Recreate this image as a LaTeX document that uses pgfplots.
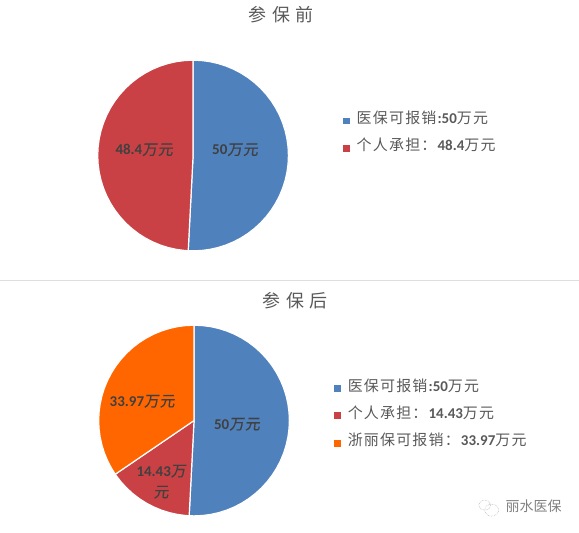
\documentclass[border=0pt]{standalone}
\usepackage{fontspec}
\usepackage{pgfplots}
\pgfplotsset{compat=1.18}
\usepgfplotslibrary{polar}
\setmainfont{Carlito}
\newfontfamily\cjkt[LetterSpace=30]{Noto Sans CJK SC}
\newfontfamily\cjkl[LetterSpace=8]{Noto Sans CJK SC}
\newfontfamily\cjkd[LetterSpace=5,FakeSlant=0.12,FakeBold=0.4]{Noto Sans CJK SC}
\newfontfamily\cjkw{Noto Sans CJK SC}
\definecolor{blueA}{HTML}{4F81BD}
\definecolor{redA}{HTML}{C94144}
\definecolor{orangeA}{HTML}{FF6600}
\definecolor{txtA}{HTML}{595959}
\definecolor{txtB}{HTML}{404040}
\newcommand{\sz}[1]{\fontsize{#1}{#1}\selectfont}
\newcommand{\legtxt}[2]{\hspace*{7pt}{\cjkl #1}\textbf{#2}{\cjkl 万元}}
\newcommand{\datatxt}[1]{\textbf{#1}{\cjkd 万元}}
\pgfplotsset{
  piestyle/.style={
    hide axis, clip=false, scale only axis, width=191pt,
    xmin=-270, xmax=90, ymin=0, ymax=1,
    legend cell align=left,
    legend image code/.code={\fill[##1,draw=none] (0pt,-1pt) rectangle (7pt,6pt);},
    legend style={draw=none, fill=none, font=\sz{15}\color{txtA}, inner sep=0pt,
      row sep=13pt,
      nodes={inner sep=0pt, anchor=base west}},
  },
  wedge/.style={fill=#1, draw=white, line width=1.2pt, line join=miter},
}
\begin{document}
\begin{tikzpicture}[x=1pt,y=1pt]
\path (0,0) rectangle (579,533);
\draw[color=black!13,line width=1pt] (0,252) -- (579,252);

\begin{polaraxis}[piestyle, at={(202,395)}, anchor=center,
  legend style={at={(1.284,0.626)}, anchor=west}]
\addplot[wedge=blueA] coordinates {(0,0)(90,1)(85,1)(80,1)(75,1)(70,1)(65,1)(60,1)(55,1)(50,1)(45,1)(40,1)(35,1)(30,1)(25,1)(20,1)(15,1)(10,1)(5,1)(0,1)(-5,1)(-10,1)(-15,1)(-20,1)(-25,1)(-30,1)(-35,1)(-40,1)(-45,1)(-50,1)(-55,1)(-60,1)(-65,1)(-70,1)(-75,1)(-80,1)(-85,1)(-90,1)(-92.93,1)(0,0)};
\addlegendentry{\legtxt{医保可报销}{:50}}
\addplot[wedge=redA] coordinates {(0,0)(-92.93,1)(-95,1)(-100,1)(-105,1)(-110,1)(-115,1)(-120,1)(-125,1)(-130,1)(-135,1)(-140,1)(-145,1)(-150,1)(-155,1)(-160,1)(-165,1)(-170,1)(-175,1)(-180,1)(-185,1)(-190,1)(-195,1)(-200,1)(-205,1)(-210,1)(-215,1)(-220,1)(-225,1)(-230,1)(-235,1)(-240,1)(-245,1)(-250,1)(-255,1)(-260,1)(-265,1)(-270,1)(0,0)};
\addlegendentry{\legtxt{个人承担：}{48.4}}
\end{polaraxis}

\begin{polaraxis}[piestyle, at={(203,117)}, anchor=center,
  legend style={at={(1.232,0.54)}, anchor=west}]
\addplot[wedge=blueA] coordinates {(0,0)(90,1)(85,1)(80,1)(75,1)(70,1)(65,1)(60,1)(55,1)(50,1)(45,1)(40,1)(35,1)(30,1)(25,1)(20,1)(15,1)(10,1)(5,1)(0,1)(-5,1)(-10,1)(-15,1)(-20,1)(-25,1)(-30,1)(-35,1)(-40,1)(-45,1)(-50,1)(-55,1)(-60,1)(-65,1)(-70,1)(-75,1)(-80,1)(-85,1)(-90,1)(-92.93,1)(0,0)};
\addlegendentry{\legtxt{医保可报销}{:50}}
\addplot[wedge=redA] coordinates {(0,0)(-92.93,1)(-95,1)(-100,1)(-105,1)(-110,1)(-115,1)(-120,1)(-125,1)(-130,1)(-135,1)(-140,1)(-145,1)(-145.72,1)(0,0)};
\addlegendentry{\legtxt{个人承担：}{14.43}}
\addplot[wedge=orangeA] coordinates {(0,0)(-145.72,1)(-150,1)(-155,1)(-160,1)(-165,1)(-170,1)(-175,1)(-180,1)(-185,1)(-190,1)(-195,1)(-200,1)(-205,1)(-210,1)(-215,1)(-220,1)(-225,1)(-230,1)(-235,1)(-240,1)(-245,1)(-250,1)(-255,1)(-260,1)(-265,1)(-270,1)(0,0)};
\addlegendentry{\legtxt{浙丽保可报销：}{33.97}}
\end{polaraxis}

% titles
\node[text=txtA,font=\sz{18}\cjkt] at (281,518) {参保前};
\node[text=txtA,font=\sz{18}\cjkt] at (295,232) {参保后};

% data labels
\begin{scope}[every node/.style={text=txtB,font=\sz{15},inner sep=0pt}]
\node at (235,383) {\datatxt{50}};
\node at (144,383) {\datatxt{48.4}};
\node at (237,108) {\datatxt{50}};
\node at (142,131) {\datatxt{33.97}};
\node at (161,61) {\textbf{14.43}{\cjkd 万}};
\node at (161,40) {{\cjkd 元}};
\end{scope}

% watermark
\draw[black!35,densely dotted,line width=0.5pt] (485,27) ellipse (6 and 5);
\draw[black!35,densely dotted,line width=0.5pt] (492,22) ellipse (7 and 6);
\node[text=black!50,font=\sz{14}\cjkw,inner sep=0pt] at (534,26) {丽水医保};
\end{tikzpicture}
\end{document}
